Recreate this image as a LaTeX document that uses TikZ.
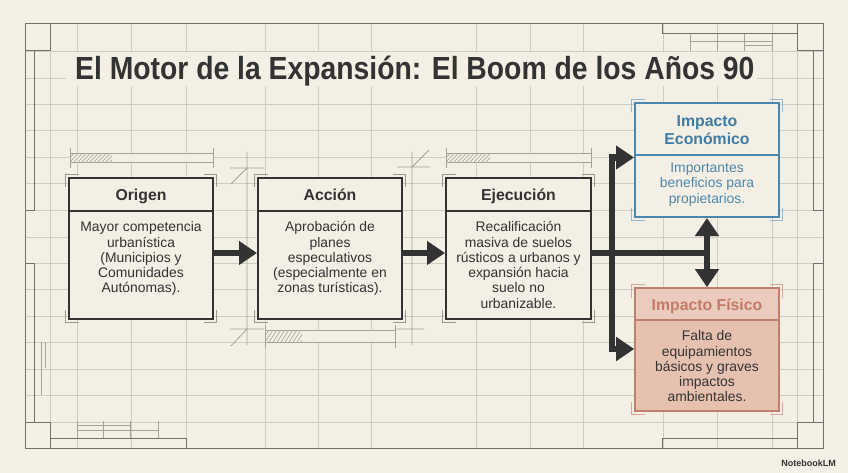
\documentclass[tikz,border=0pt]{standalone}
\usepackage{fontspec}
\usepackage{graphicx}
\setmainfont{Liberation Sans}
\usetikzlibrary{arrows.meta}
\definecolor{bg}{HTML}{F3EFE5}
\definecolor{gridc}{HTML}{D0CCC1}
\definecolor{decoc}{HTML}{A6A298}
\definecolor{framec}{HTML}{72706A}
\definecolor{dark}{HTML}{333333}
\definecolor{bluec}{HTML}{4A86AE}
\definecolor{bluetxt}{HTML}{3F7BA3}
\definecolor{bluebody}{HTML}{4F87A9}
\definecolor{bluebr}{HTML}{8DB9D5}
\definecolor{redc}{HTML}{C27F6E}
\definecolor{redtxt}{HTML}{C47A69}
\definecolor{redhead}{HTML}{EBCBBD}
\definecolor{redbody}{HTML}{E7C1B0}
\definecolor{redbr}{HTML}{D9A697}
\definecolor{graybr}{HTML}{9A978F}
\newcommand{\cmarks}[5]{%
  \draw[#5, line width=1.1pt]
    ({#1-3.5},{#2+9.5}) -- ({#1-3.5},{#2-3.5}) -- ({#1+9.5},{#2-3.5})
    ({#3-9.5},{#2-3.5}) -- ({#3+3.5},{#2-3.5}) -- ({#3+3.5},{#2+9.5})
    ({#1-3.5},{#4-9.5}) -- ({#1-3.5},{#4+3.5}) -- ({#1+9.5},{#4+3.5})
    ({#3-9.5},{#4+3.5}) -- ({#3+3.5},{#4+3.5}) -- ({#3+3.5},{#4-9.5});}
\newcommand{\dband}[5]{%
  \fill[bg] (#1,#3) rectangle (#2,#4);
  \begin{scope}
    \clip (#1,#3) rectangle (#5,#4);
    \foreach \h in {0,4,...,60} \draw[decoc, line width=0.6pt] ({#1+\h-8},#4) -- ({#1+\h},#3);
  \end{scope}
  \draw[decoc, line width=0.8pt] (#1,#3) -- (#2,#3) (#1,#4) -- (#2,#4)
    (#1,{#3-5}) -- (#1,{#4+6}) (#2,{#3-5}) -- (#2,{#4+6});}
\begin{document}
\begin{tikzpicture}[x=1pt,y=-1pt,
  gridline/.style={draw=gridc, line width=0.8pt},
  deco/.style={draw=decoc, line width=0.8pt},
  frameline/.style={draw=framec, line width=1pt},
  boxframe/.style={draw=dark, line width=2pt, fill=bg, rectangle, inner sep=0pt},
  hdr/.style={font=\fontsize{15.8}{18}\selectfont\bfseries, text=dark, inner sep=0pt, align=center},
  bodytxt/.style={font=\fontsize{13.9}{15.3}\selectfont, text=dark, inner sep=0pt, align=center},
  flow/.style={draw=dark, line width=6.5pt, -{Triangle[length=18pt,width=23pt]}},
  flowline/.style={draw=dark, line width=6.5pt}]
\useasboundingbox (0,0) rectangle (848,473);
\fill[bg] (0,0) rectangle (848,473);
% grid
\foreach \y in {51,78,104,130,157,183,210,237,263,289,316,342,369,395,422}
  \draw[gridline] (25,\y) -- (823,\y);
\foreach \x in {50,77,131,186,265,318,371,476,530,583,663,717,772,797}
  \draw[gridline] (\x,24) -- (\x,448);
% frame
\draw[frameline] (25,24) rectangle (823,448);
\draw[frameline] (25,24) rectangle (50,51) (797,24) rectangle (823,51)
  (25,422) rectangle (50,448) (797,422) rectangle (823,448);
\draw[frameline] (25,51) -- (34,51) -- (34,210) -- (25,210);
\draw[frameline] (25,263) -- (34,263) -- (34,422);
\draw[frameline] (823,51) -- (813,51) -- (813,210) -- (823,210);
\draw[frameline] (823,263) -- (813,263) -- (813,422);
\draw[deco] (41,342) -- (41,395) (45.7,342) -- (45.7,368);
\draw[frameline] (50,438) -- (186,438) -- (186,448);
\draw[frameline] (662,448) -- (662,438) -- (797,438);
\draw[frameline] (662,24) -- (662,34) -- (797,34);
\draw[deco] (690,34) -- (690,51) (717,34) -- (717,51) (744,34) -- (744,51) (772,34) -- (772,51)
  (690,41.7) -- (772,41.7) (744,45.7) -- (772,45.7);
\draw[deco] (77,421) -- (77,438) (103,421) -- (103,438) (130,421) -- (130,438) (158,421) -- (158,438)
  (77,425.7) -- (130,425.7) (77,430.7) -- (158,430.7);
% title
\fill[bg] (66,52.5) rectangle (757,86);
\node[anchor=base west, inner sep=0pt, text=dark] (title) at (75,80)
  {\fontsize{32}{36}\selectfont\bfseries\scalebox{0.885}[1]{El Motor de la Expansión: El Boom de los Años 90}};
% dimension decorations
\dband{70}{213}{153.5}{162}{112}
\dband{446}{591}{153.5}{162}{490}
\dband{265}{395}{330}{342}{302}
\draw[deco] (247,152) -- (247,345) (230,168) -- (264,168) (231,184) -- (247,168)
  (230,329) -- (264,329) (231,346) -- (247,329);
\draw[deco] (412,152) -- (412,345) (397,167) -- (430,167) (412,167) -- (429,150)
  (395,329) -- (424,329);
% corner marks
\cmarks{69}{178}{213}{319}{graybr}
\cmarks{258}{178}{402}{319}{graybr}
\cmarks{446}{178}{591}{319}{graybr}
\cmarks{635}{103}{779}{217}{bluebr}
\cmarks{635}{288}{779}{411}{redbr}
% boxes
\node[boxframe, minimum width=144pt, minimum height=141pt] (origen) at (141,248.5) {};
\node[boxframe, minimum width=144pt, minimum height=141pt] (accion) at (330,248.5) {};
\node[boxframe, minimum width=145pt, minimum height=141pt] (ejec) at (518.5,248.5) {};
\draw[dark, line width=2pt] (69,211) -- (213,211) (258,211) -- (402,211) (446,211) -- (591,211);
\node[hdr, anchor=base] (origenH) at (141,200.5) {Origen};
\node[hdr, anchor=base] (accionH) at (330,200.5) {Acción};
\node[hdr, anchor=base] (ejecH) at (518.5,200.5) {Ejecución};
\node[bodytxt, anchor=north] (origenB) at (141,220.5)
  {\rule{0pt}{11pt}Mayor competencia\\urbanística\\(Municipios y\\Comunidades\\Autónomas).};
\node[bodytxt, anchor=north] (accionB) at (330,220.5)
  {\rule{0pt}{11pt}Aprobación de\\planes\\especulativos\\(especialmente en\\zonas turísticas).};
\node[bodytxt, anchor=north] (ejecB) at (518.5,220.5)
  {\rule{0pt}{11pt}Recalificación\\masiva de suelos\\rústicos a urbanos y\\expansión hacia\\suelo no\\urbanizable.};
% impacto economico
\node[draw=bluec, line width=2pt, fill=bg, inner sep=0pt, minimum width=144pt, minimum height=114pt] (econ) at (707,160) {};
\draw[bluec, line width=2pt] (635,155) -- (779,155);
\node[hdr, text=bluetxt, anchor=north] (econH) at (707,113.5) {\rule{0pt}{13pt}Impacto\\Económico};
\node[bodytxt, text=bluebody, anchor=north] (econB) at (707,161.5)
  {\rule{0pt}{11pt}Importantes\\beneficios para\\propietarios.};
% impacto fisico
\node[draw=redc, line width=1.6pt, fill=redbody, inner sep=0pt, minimum width=144pt, minimum height=123pt] (fisico) at (707,349.5) {};
\fill[redhead] (635.8,288.8) rectangle (778.2,320);
\draw[redc, line width=1.6pt] (635,288) rectangle (779,411);
\draw[redc, line width=1.6pt] (635,320) -- (779,320);
\node[hdr, text=redtxt, anchor=base] (fisicoH) at (707,310.5) {Impacto Físico};
\node[bodytxt, anchor=north] (fisicoB) at (707,329.5)
  {\rule{0pt}{11pt}Falta de\\equipamientos\\básicos y graves\\impactos\\ambientales.};
% connectors
\coordinate (yline) at (0,253);
\coordinate (ea) at (0,157.5);
\coordinate (fa) at (0,349);
\coordinate (trunk) at (612,253);
\draw[flow] (origen.east |- yline) -- (accion.west |- yline);
\draw[flow] (accion.east |- yline) -- (ejec.west |- yline);
\draw[flowline] (ejec.east |- yline) -- (econ.south |- yline);
\draw[flow] (trunk) |- (econ.west |- ea);
\draw[flow] (trunk) |- (fisico.west |- fa);
\draw[flow] (econ.south |- yline) -- (econ.south);
\draw[flow] (econ.south |- yline) -- (fisico.north);
% watermark
\node[anchor=east, inner sep=0pt, text=dark] (wm) at (836,463)
  {\fontsize{9}{10}\selectfont\bfseries NotebookLM};
\end{tikzpicture}
\end{document}
